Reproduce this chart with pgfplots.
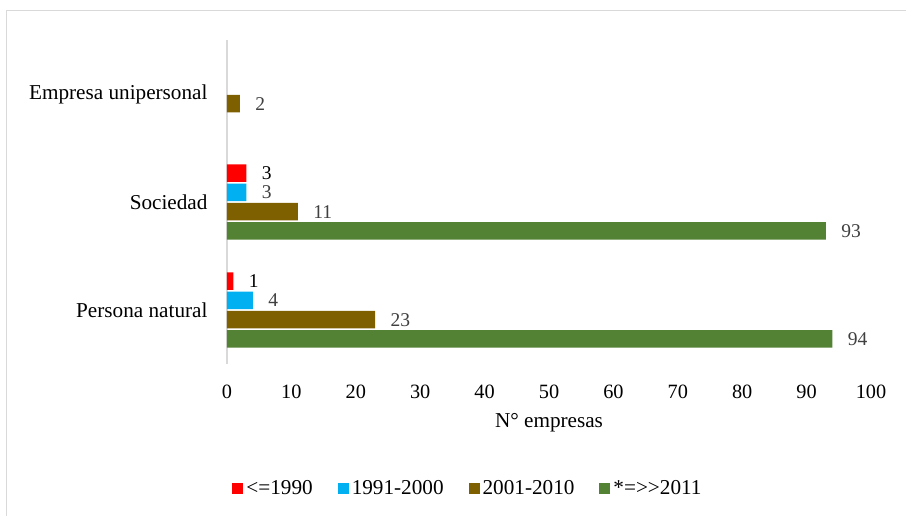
\documentclass[border=0pt]{standalone}
\usepackage{fontspec}
\setmainfont{Liberation Serif}
\usepackage{pgfplots}
\pgfplotsset{compat=1.18}
\definecolor{cRed}{HTML}{FF0000}
\definecolor{cBlue}{HTML}{00B0F0}
\definecolor{cBrown}{HTML}{7F6000}
\definecolor{cGreen}{HTML}{548235}
\definecolor{frame}{HTML}{D9D9D9}
\definecolor{lbl}{HTML}{404040}
\begin{document}
\begin{tikzpicture}[x=1pt,y=1pt]
\useasboundingbox (0,0) rectangle (906,516);
\fill[white] (0,0) rectangle (906,516);
\draw[frame, line width=1pt] (6,-5) -- (6,505) -- (912,505);
\begin{axis}[
  at={(227pt,152pt)}, anchor=south west,
  width=644pt, height=324pt, scale only axis,
  xmin=0, xmax=100, ymin=-0.5, ymax=2.5,
  xtick={0,10,...,100},
  ytick={0,1,2},
  yticklabels={Persona natural, Sociedad, Empresa unipersonal},
  major tick length=0pt,
  axis lines*=left,
  x axis line style={draw=none},
  y axis line style={draw=frame, line width=1.5pt},
  font=\fontsize{21.2}{25}\selectfont,
  /pgf/number format/assume math mode=true,
  xticklabel style={yshift=-17pt, font=\fontsize{20.3}{24}\selectfont},
  yticklabel style={xshift=-16pt},
  xlabel={N° empresas},
  xlabel style={at={(axis description cs:0.5,-0.182)}, anchor=center},
  xbar, bar width=17.5pt,
  point meta=x,
  nodes near coords,
  every node near coord/.append style={font=\fontsize{19.5}{23}\selectfont, text=lbl, xshift=12pt},
  legend style={at={(0.375,-0.383)}, anchor=center, draw=none, fill=none,
    legend columns=-1, font=\fontsize{21.2}{25}\selectfont,
    nodes={inner sep=3pt},
    /tikz/every even column/.append style={column sep=22pt}},
  legend image code/.code={\fill[#1, draw=none] (0pt,-5.5pt) rectangle (11pt,5.5pt);},
]
\addplot[bar shift=28.9pt, fill=cRed, draw=none, every node near coord/.append style={text=black}] coordinates {(1,0) (3,1)};
\addplot[bar shift=9.65pt, fill=cBlue, draw=none] coordinates {(4,0) (3,1)};
\addplot[bar shift=-9.65pt, fill=cBrown, draw=none] coordinates {(23,0) (11,1) (2,2)};
\addplot[bar shift=-28.9pt, fill=cGreen, draw=none] coordinates {(94,0) (93,1)};
\legend{{<=1990},{1991-2000},{2001-2010},{*=>{}>2011}}
\end{axis}
\end{tikzpicture}
\end{document}
